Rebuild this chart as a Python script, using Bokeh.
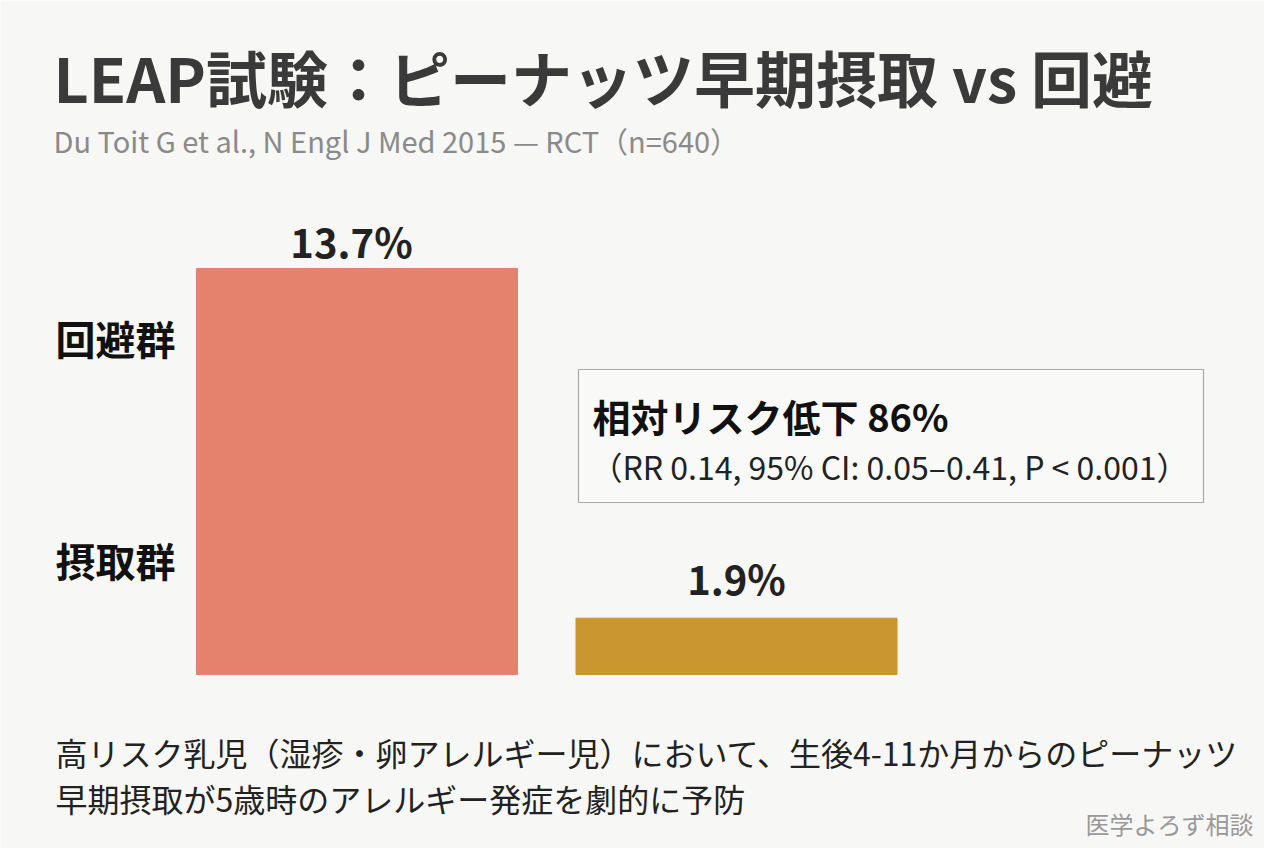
from bokeh.plotting import figure
from bokeh.models import Range1d, ColumnDataSource
from bokeh.core.properties import value
from bokeh.embed import file_html
from bokeh.resources import INLINE

# ---- data ----
groups = ["回避群", "摂取群"]
rates = [13.7, 1.9]
rate_labels = ["13.7%", "1.9%"]
bar_colors = ["#e5826e", "#c9962f"]
title = "LEAP試験：ピーナッツ早期摂取 vs 回避"
subtitle = "Du Toit G et al., N Engl J Med 2015 — RCT（n=640）"
box_title = "相対リスク低下 86%"
box_sub = "（RR 0.14, 95% CI: 0.05–0.41, P < 0.001）"
footer = ["高リスク乳児（湿疹・卵アレルギー児）において、生後4-11か月からのピーナッツ",
          "早期摂取が5歳時のアレルギー発症を劇的に予防"]
credit = "医学よろず相談"

W, H = 1264, 848
BASE_PX = 674            # pixel row of the 0% baseline
PX_PER_PCT = 406 / 13.7  # vertical scale

def yv(px):
    return (BASE_PX - px) / PX_PER_PCT

FONT = value("Noto Sans CJK JP")
BG = "#f7f7f5"

p = figure(width=W, height=H, output_backend="svg", toolbar_location=None,
           x_range=Range1d(0, W), y_range=Range1d(yv(H), yv(0)),
           min_border=0, background_fill_color=BG, border_fill_color=BG,
           outline_line_color=None)
p.axis.visible = False
p.grid.visible = False

# bars
bar_x = [356.5, 736]
label_x = [351, 736]
label_gap_px = [28, 40]
src = ColumnDataSource(dict(x=bar_x, top=rates, color=bar_colors, lab=rate_labels, lx=label_x,
                            ly=[r + g / PX_PER_PCT for r, g in zip(rates, label_gap_px)]))
p.vbar(x="x", top="top", bottom=0, width=321, color="color", source=src)
p.text(x="lx", y="ly", text="lab", source=src, text_font=FONT, text_font_style="bold",
       text_font_size="40px", text_align="center", text_baseline="middle", text_color="#222222")

# group labels
p.text(x=[55, 55], y=[yv(337), yv(559)], text=groups, text_font=FONT, text_font_style="bold",
       text_font_size="40px", text_align="left", text_baseline="middle", text_color="#111111")

# title and subtitle
p.text(x=[53], y=[yv(76)], text=[title], text_font=FONT, text_font_style="bold",
       text_font_size="61px", text_align="left", text_baseline="middle", text_color="#3a3a3a")
p.text(x=[53], y=[yv(139)], text=[subtitle], text_font=FONT,
       text_font_size="29px", text_align="left", text_baseline="middle", text_color="#8a8a8a")

# annotation box
p.quad(left=[578], right=[1203], bottom=[yv(502)], top=[yv(369)],
       fill_color="#f9f9f8", line_color="#aaaaaa", line_width=1.2)
p.text(x=[592], y=[yv(415)], text=[box_title], text_font=FONT, text_font_style="bold",
       text_font_size="38px", text_align="left", text_baseline="middle", text_color="#111111")
p.text(x=[590], y=[yv(465)], text=[box_sub], text_font=FONT,
       text_font_size="32px", text_align="left", text_baseline="middle", text_color="#222222")

# footer
p.text(x=[55, 55], y=[yv(751), yv(797)], text=footer, text_font=FONT,
       text_font_size="32px", text_align="left", text_baseline="middle", text_color="#222222")
p.text(x=[1253], y=[yv(823)], text=[credit], text_font=FONT,
       text_font_size="24px", text_align="right", text_baseline="middle", text_color="#999999")

open("out.html", "w").write(file_html(p, INLINE))
